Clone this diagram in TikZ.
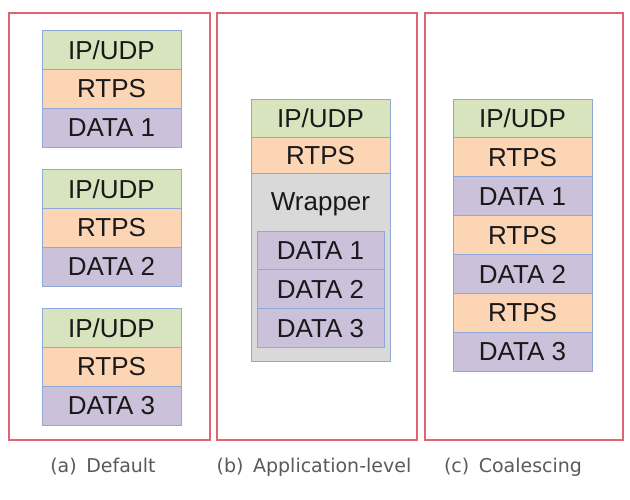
\documentclass[tikz,border=0pt]{standalone}
\usepackage{fontspec}
\setmainfont{Liberation Sans}
\newfontfamily\capfont{DejaVu Sans}
\usetikzlibrary{positioning}
\definecolor{ipgreen}{RGB}{215,228,189}
\definecolor{rtpsorange}{RGB}{252,213,181}
\definecolor{datapurple}{RGB}{204,193,218}
\definecolor{wrapgray}{RGB}{217,217,217}
\definecolor{stkborder}{RGB}{143,168,216}
\definecolor{framered}{RGB}{224,100,114}
\definecolor{capgray}{RGB}{90,90,90}
\tikzset{
  layer/.style  ={draw=stkborder, line width=0.9pt, minimum width=139pt, minimum height=38.9pt,
                  inner sep=0pt, outer sep=0pt, anchor=north, text=black!90,
                  font=\fontsize{26}{26}\selectfont},
  ipS/.style    ={layer, fill=ipgreen},
  rtpsS/.style  ={layer, fill=rtpsorange},
  dataS/.style  ={layer, fill=datapurple},
  wrapS/.style  ={layer, fill=wrapgray, minimum height=188pt},
  innerS/.style ={dataS, minimum width=127pt},
  frameS/.style ={draw=framered, line width=1.2pt},
  capS/.style   ={text=capgray, font=\capfont\fontsize{19}{19}\selectfont},
}
\begin{document}
\begin{tikzpicture}[x=1pt, y=-1pt, node distance=0pt]
  \useasboundingbox (0,0) rectangle (630,499);
  % panel frames
  \draw[frameS] (9,13) rectangle (210,440);
  \draw[frameS] (217,13) rectangle (417,440);
  \draw[frameS] (425,13) rectangle (623,440);
  % (a) default: one header per sample
  \foreach \i/\y in {1/30.5,2/169.5,3/308.5}{
    \node[ipS] (a\i ip) at (111.5,\y) {IP/UDP};
    \node[rtpsS, below=of a\i ip] (a\i rtps) {RTPS};
    \node[dataS, below=of a\i rtps] (a\i data) {DATA \i};
  }
  % (b) application-level wrapper
  \node[ipS] (bip) at (320.5,99) {IP/UDP};
  \node[rtpsS, below=of bip, minimum height=36pt] (brtps) {RTPS};
  \node[wrapS, below=of brtps] (bwrap) {};
  \node[below=15pt of bwrap.north, font=\fontsize{26}{26}\selectfont, text=black!90] (bwraptxt) {Wrapper};
  \node[innerS] (bd1) at (320.5,231) {DATA 1};
  \node[innerS, below=of bd1] (bd2) {DATA 2};
  \node[innerS, below=of bd2] (bd3) {DATA 3};
  % (c) coalescing: one IP/UDP header
  \node[ipS] (cip) at (522.5,99) {IP/UDP};
  \node[rtpsS, below=of cip] (crtps1) {RTPS};
  \node[dataS, below=of crtps1] (cd1) {DATA 1};
  \node[rtpsS, below=of cd1] (crtps2) {RTPS};
  \node[dataS, below=of crtps2] (cd2) {DATA 2};
  \node[rtpsS, below=of cd2] (crtps3) {RTPS};
  \node[dataS, below=of crtps3] (cd3) {DATA 3};
  % captions
  \node[capS] (capa) at (103,467) {(a)\enspace Default};
  \node[capS] (capb) at (314,467) {(b)\enspace Application-level};
  \node[capS] (capc) at (513,467) {(c)\enspace Coalescing};
\end{tikzpicture}
\end{document}
